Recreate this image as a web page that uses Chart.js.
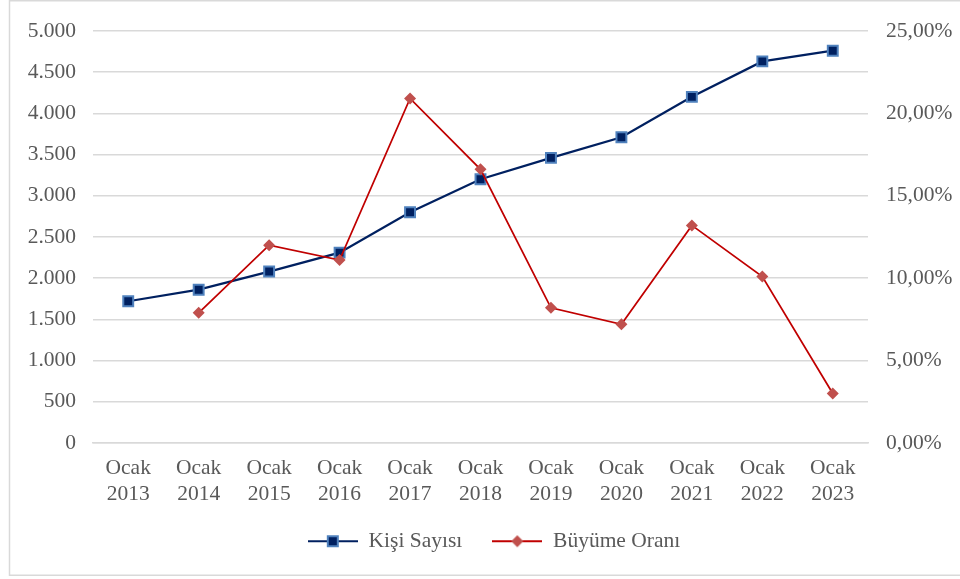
<!DOCTYPE html>
<html>
<head>
<meta charset="utf-8">
<script src="https://cdn.jsdelivr.net/npm/chart.js@4.4.1/dist/chart.umd.min.js"></script>
<style>
html,body{margin:0;padding:0;background:#fff;}
#wrap{width:960px;height:579px;position:relative;}
</style>
</head>
<body>
<div id="wrap"><canvas id="c" width="960" height="579"></canvas></div>
<script>
const categories = [["Ocak","2013"],["Ocak","2014"],["Ocak","2015"],["Ocak","2016"],["Ocak","2017"],["Ocak","2018"],["Ocak","2019"],["Ocak","2020"],["Ocak","2021"],["Ocak","2022"],["Ocak","2023"]];
const kisiSayisi = [1720, 1860, 2080, 2310, 2800, 3200, 3460, 3710, 4200, 4630, 4760];
const buyumeOrani = [null, 7.9, 12.0, 11.1, 20.9, 16.6, 8.2, 7.2, 13.2, 10.1, 3.0];
const seriesNames = ["Kişi Sayısı", "Büyüme Oranı"];
const leftTicks = [0, 500, 1000, 1500, 2000, 2500, 3000, 3500, 4000, 4500, 5000];
const rightTicks = [0, 5, 10, 15, 20, 25];

const FONT = "'Liberation Serif', 'Times New Roman', serif";
const FS = 21.5;
const TXT = "#595959";
const GRID = "#d9d9d9";

function legendIcon(kind){
  const cv = document.createElement('canvas');
  cv.width = 50; cv.height = 14;
  const x = cv.getContext('2d');
  x.lineWidth = 2;
  if (kind === 0){
    x.strokeStyle = "#002060";
    x.beginPath(); x.moveTo(0,7); x.lineTo(50,7); x.stroke();
    x.fillStyle = "#4f81bd"; x.fillRect(19,1,12,12);
    x.fillStyle = "#002060"; x.fillRect(21,3,8,8);
  } else {
    x.strokeStyle = "#c00000";
    x.beginPath(); x.moveTo(0,7); x.lineTo(50,7); x.stroke();
    x.fillStyle = "#c0504d";
    x.beginPath(); x.moveTo(25,1); x.lineTo(31,7); x.lineTo(25,13); x.lineTo(19,7); x.closePath(); x.fill();
  }
  return cv;
}

const framePlugin = {
  id: 'frame',
  beforeDraw(chart){
    const c = chart.ctx;
    c.save();
    c.fillStyle = '#fff';
    c.fillRect(0,0,chart.width,chart.height);
    c.strokeStyle = GRID;
    c.lineWidth = 1.5;
    c.strokeRect(9.5, 0.75, 970, 574.5);
    c.restore();
  },
  afterLayout(chart){
    if (chart.legend) { chart.legend.left += 14; chart.legend.right += 14; }
  }
};

const PAD_BOTTOM = 17;
new Chart(document.getElementById('c'), {
  type: 'line',
  data: {
    labels: categories,
    datasets: [
      {
        label: seriesNames[0],
        data: kisiSayisi,
        yAxisID: 'y',
        borderColor: '#002060',
        borderWidth: 2.25,
        backgroundColor: '#002060',
        pointStyle: 'rect',
        pointRadius: 7,
        pointHoverRadius: 7,
        pointBackgroundColor: '#002060',
        pointBorderColor: '#4f81bd',
        pointBorderWidth: 2,
        tension: 0,
        order: 2
      },
      {
        label: seriesNames[1],
        data: buyumeOrani,
        yAxisID: 'y1',
        borderColor: '#c00000',
        borderWidth: 1.75,
        backgroundColor: '#c0504d',
        pointStyle: 'rectRot',
        pointRadius: 6,
        pointHoverRadius: 6,
        pointBackgroundColor: '#c0504d',
        pointBorderColor: '#c0504d',
        pointBorderWidth: 0,
        tension: 0,
        spanGaps: false,
        order: 1
      }
    ]
  },
  options: {
    responsive: false,
    animation: false,
    devicePixelRatio: 1,
    layout: { padding: { top: 30, left: 0, right: 0, bottom: PAD_BOTTOM } },
    plugins: {
      tooltip: { enabled: false },
      legend: {
        position: 'bottom',
        labels: {
          usePointStyle: true,
          pointStyleWidth: 50,
          font: { family: FONT, size: FS },
          color: TXT,
          padding: 30,
          generateLabels(chart){
            return chart.data.datasets.map((ds, i) => ({
              text: ds.label,
              pointStyle: legendIcon(i),
              fillStyle: 'transparent',
              strokeStyle: 'transparent',
              lineWidth: 0,
              fontColor: TXT,
              datasetIndex: i,
              hidden: false
            }));
          }
        }
      }
    },
    scales: {
      x: {
        offset: true,
        grid: { display: false, drawTicks: false },
        border: { display: true, color: GRID, width: 1.5 },
        ticks: { font: { family: FONT, size: FS, lineHeight: 1.18 }, color: TXT, padding: 13, maxRotation: 0, autoSkip: false },
        afterFit(scale){
          const leg = scale.chart.legend;
          const lh = leg ? leg.height : 0;
          scale.height = 579 - 443 - lh - PAD_BOTTOM;
        }
      },
      y: {
        position: 'left',
        min: 0, max: 5000,
        afterBuildTicks(scale){ scale.ticks = leftTicks.map(v => ({ value: v })); },
        grid: { color: GRID, lineWidth: 1.5, drawTicks: false },
        border: { display: false },
        ticks: {
          font: { family: FONT, size: FS }, color: TXT, padding: 17,
          callback: v => v.toLocaleString('de-DE')
        },
        afterFit(scale){ scale.width = 93; }
      },
      y1: {
        position: 'right',
        min: 0, max: 25,
        afterBuildTicks(scale){ scale.ticks = rightTicks.map(v => ({ value: v })); },
        grid: { display: false, drawTicks: false },
        border: { display: false },
        ticks: {
          font: { family: FONT, size: FS }, color: TXT, padding: 18,
          callback: v => v.toFixed(2).replace('.', ',') + '%'
        },
        afterFit(scale){ scale.width = 92; }
      }
    }
  },
  plugins: [framePlugin]
});
</script>
</body>
</html>
